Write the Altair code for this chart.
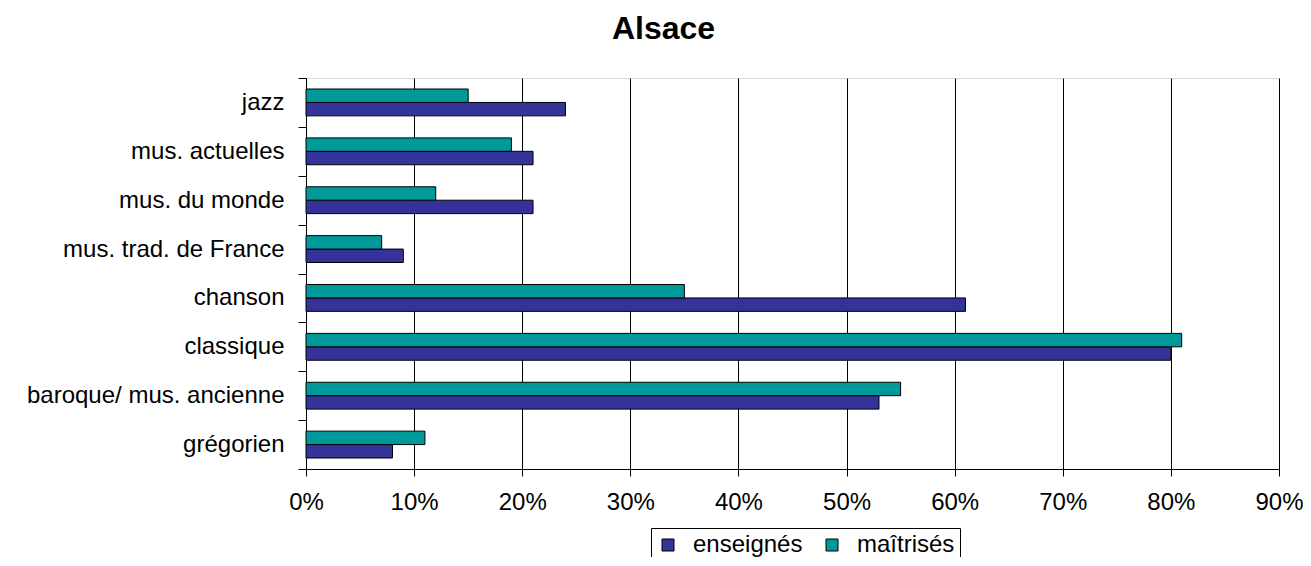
import altair as alt
import pandas as pd

categories = [
    "jazz",
    "mus. actuelles",
    "mus. du monde",
    "mus. trad. de France",
    "chanson",
    "classique",
    "baroque/ mus. ancienne",
    "grégorien",
]
enseignes = [24, 21, 21, 9, 61, 80, 53, 8]
maitrises = [15, 19, 12, 7, 35, 81, 55, 11]
series_names = ["enseignés", "maîtrisés"]
series_colors = ["#333399", "#009999"]
x_ticks = [0, 10, 20, 30, 40, 50, 60, 70, 80, 90]

rows = []
for c, e, m in zip(categories, enseignes, maitrises):
    rows.append({"category": c, "series": "enseignés", "value": e})
    rows.append({"category": c, "series": "maîtrisés", "value": m})
df = pd.DataFrame(rows)

FONT = "Liberation Sans"
FS = 24

chart = (
    alt.Chart(df)
    .mark_bar(stroke="black", strokeWidth=1)
    .encode(
        y=alt.Y(
            "category:N",
            sort=categories,
            scale=alt.Scale(paddingInner=0, paddingOuter=0),
            axis=alt.Axis(
                title=None,
                tickBand="extent",
                tickSize=8,
                tickColor="black",
                domainColor="black",
                labelPadding=14,
                labelFontSize=FS,
                labelFont=FONT,
                labelColor="black",
                labelLimit=0,
                grid=False,
            ),
        ),
        yOffset=alt.YOffset(
            "series:N",
            sort=["maîtrisés", "enseignés"],
            scale=alt.Scale(paddingInner=0, paddingOuter=0.82),
        ),
        x=alt.X(
            "value:Q",
            scale=alt.Scale(domain=[0, 90], nice=False),
            axis=alt.Axis(
                title=None,
                values=x_ticks,
                labelExpr="datum.value + '%'",
                labelFlush=False,
                grid=True,
                gridColor="black",
                gridOpacity=1,
                gridWidth=1,
                tickSize=7,
                tickColor="black",
                domainColor="black",
                labelPadding=14,
                labelFontSize=FS,
                labelFont=FONT,
                labelColor="black",
            ),
        ),
        color=alt.Color(
            "series:N",
            scale=alt.Scale(domain=series_names, range=series_colors),
            legend=alt.Legend(
                title=None,
                orient="none",
                legendX=345,
                legendY=450,
                direction="horizontal",
                strokeColor="black",
                padding=5,
                symbolType="square",
                symbolSize=144,
                symbolStrokeColor="black",
                symbolStrokeWidth=1,
                symbolOpacity=1,
                labelFontSize=FS,
                labelFont=FONT,
                labelColor="black",
                labelOffset=13,
                columnPadding=17,
            ),
        ),
    )
    .properties(
        width=973,
        height=391,
        title=alt.TitleParams(
            "Alsace",
            font=FONT,
            fontSize=32,
            fontWeight="bold",
            color="black",
            anchor="middle",
            dx=-129,
            offset=20,
        ),
        autosize=alt.AutoSizeParams(type="none"),
        padding={"left": 298, "top": 70, "right": 24, "bottom": 88},
    )
    .configure_view(stroke="#555555", strokeWidth=1)
    .configure(background="white")
)

chart.save("out.html", embed_options={"renderer": "svg", "actions": False})
